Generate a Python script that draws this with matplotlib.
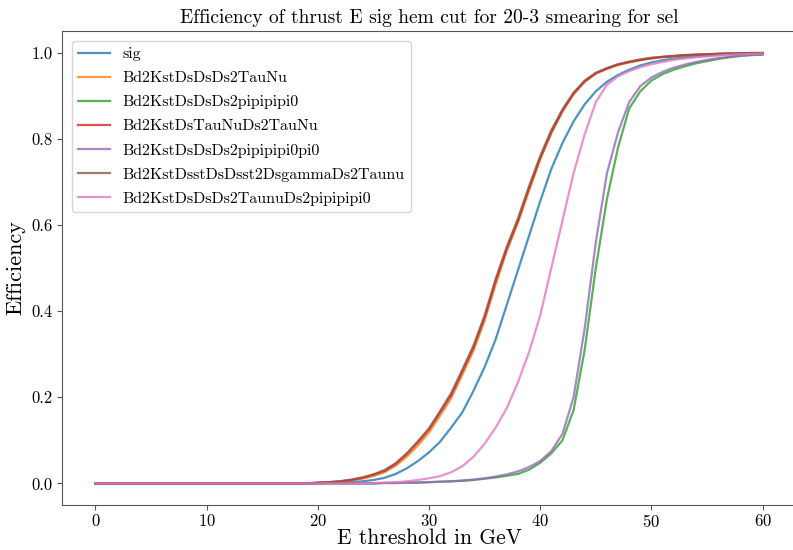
import numpy as np
import matplotlib
matplotlib.use("Agg")
import matplotlib.pyplot as plt

plt.rcParams['font.family'] = ['cmr10', 'DejaVu Serif']
plt.rcParams['axes.formatter.use_mathtext'] = True
plt.rcParams['mathtext.fontset'] = 'cm'

x = list(range(0, 61))

red = [0]*20 + [0.002, 0.003, 0.005, 0.008, 0.013, 0.02, 0.029, 0.045, 0.068, 0.095,
                0.125, 0.165, 0.205, 0.26, 0.315, 0.385, 0.47, 0.545, 0.61, 0.685,
                0.755, 0.815, 0.865, 0.905, 0.933, 0.952, 0.963, 0.972, 0.978, 0.983,
                0.987, 0.99, 0.992, 0.994, 0.995, 0.996, 0.997, 0.998, 0.998, 0.999, 0.999]
orange = [0]*20 + [0.001, 0.002, 0.004, 0.007, 0.011, 0.017, 0.026, 0.041, 0.062, 0.088,
                   0.118, 0.157, 0.198, 0.252, 0.308, 0.378, 0.462, 0.54, 0.605, 0.68,
                   0.752, 0.813, 0.863, 0.903, 0.932, 0.951, 0.962, 0.971, 0.977, 0.982,
                   0.986, 0.989, 0.991, 0.993, 0.995, 0.996, 0.997, 0.997, 0.998, 0.998, 0.999]
brown = [0]*20 + [0.002, 0.003, 0.005, 0.009, 0.014, 0.021, 0.031, 0.047, 0.07, 0.098,
                  0.128, 0.168, 0.21, 0.264, 0.32, 0.39, 0.475, 0.55, 0.615, 0.69,
                  0.76, 0.82, 0.868, 0.907, 0.935, 0.953, 0.964, 0.973, 0.979, 0.984,
                  0.988, 0.99, 0.992, 0.994, 0.995, 0.996, 0.997, 0.998, 0.998, 0.999, 0.999]
sig = [0]*21 + [0.001, 0.002, 0.003, 0.005, 0.008, 0.013, 0.022, 0.035, 0.052,
                0.072, 0.097, 0.13, 0.165, 0.215, 0.27, 0.335, 0.415, 0.495, 0.575,
                0.655, 0.73, 0.79, 0.84, 0.88, 0.91, 0.932, 0.948, 0.96, 0.97,
                0.977, 0.982, 0.986, 0.989, 0.991, 0.993, 0.995, 0.996, 0.997, 0.998, 0.998]
pink = [0]*25 + [0.001, 0.002, 0.003, 0.005, 0.008,
                 0.012, 0.017, 0.026, 0.04, 0.062, 0.092, 0.13, 0.175, 0.235, 0.305,
                 0.39, 0.5, 0.61, 0.72, 0.81, 0.885, 0.925, 0.945, 0.957, 0.966,
                 0.973, 0.978, 0.983, 0.986, 0.989, 0.991, 0.993, 0.995, 0.996, 0.997, 0.998]
purple = [0]*26 + [0.001, 0.001, 0.002, 0.002,
                   0.003, 0.004, 0.005, 0.007, 0.009, 0.012, 0.016, 0.021, 0.028, 0.038,
                   0.052, 0.075, 0.115, 0.2, 0.36, 0.56, 0.72, 0.815, 0.885, 0.922,
                   0.942, 0.955, 0.965, 0.972, 0.978, 0.983, 0.987, 0.99, 0.993, 0.995, 0.996]
green = [0]*26 + [0.001, 0.001, 0.002, 0.002,
                  0.003, 0.004, 0.005, 0.006, 0.008, 0.011, 0.014, 0.018, 0.022, 0.032,
                  0.048, 0.07, 0.1, 0.17, 0.31, 0.5, 0.66, 0.78, 0.87, 0.91,
                  0.935, 0.95, 0.96, 0.968, 0.975, 0.98, 0.985, 0.989, 0.992, 0.994, 0.995]

labels = ["sig", "Bd2KstDsDsDs2TauNu", "Bd2KstDsDsDs2pipipipi0", "Bd2KstDsTauNuDs2TauNu",
          "Bd2KstDsDsDs2pipipipi0pi0", "Bd2KstDsstDsDsst2DsgammaDs2Taunu",
          "Bd2KstDsDsDs2TaunuDs2pipipipi0"]
series = [sig, orange, green, red, purple, brown, pink]
colors = ["#1f77b4", "#ff7f0e", "#2ca02c", "#d62728", "#9467bd", "#8c564b", "#e377c2"]

fig = plt.figure(figsize=(7.93, 5.5), dpi=100)
ax = fig.add_axes([62/793, 45/550, 734/793, 474/550])

for ys, lab, c in zip(series, labels, colors):
    ax.plot(x, ys, color=c, label=lab, lw=1.6, alpha=0.8)

ax.set_xlim(-3, 63)
ax.set_ylim(-0.05, 1.05)
ax.set_xticks([0, 10, 20, 30, 40, 50, 60])
ax.set_yticks([0.0, 0.2, 0.4, 0.6, 0.8, 1.0])
ax.set_yticklabels(["0.0", "0.2", "0.4", "0.6", "0.8", "1.0"])
ax.tick_params(labelsize=12, color="#555555")
ax.tick_params(axis="x", pad=2.5)
for s in ax.spines.values():
    s.set_color("#555555")

ax.set_title("Efficiency of thrust E sig hem cut for 20-3 smearing for sel", fontsize=14)
ax.set_xlabel("E threshold in GeV", fontsize=15.5, labelpad=-1.5)
ax.set_ylabel("Efficiency", fontsize=16)
ax.legend(loc="upper left", fontsize=11.5, labelspacing=0.62, borderaxespad=0.6)

fig.savefig("out.png", dpi=100)
